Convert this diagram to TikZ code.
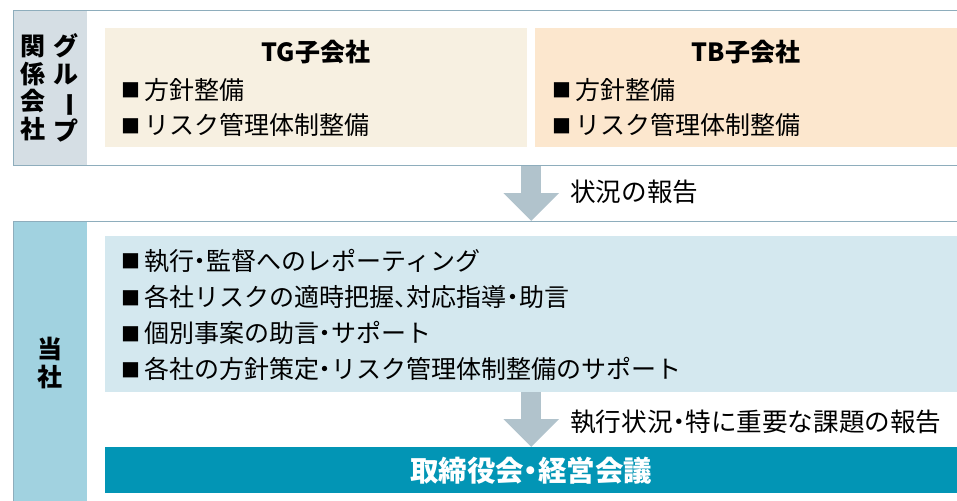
\documentclass[tikz,border=0pt]{standalone}
\usepackage{fontspec}
\setmainfont{Noto Sans CJK JP}
\usetikzlibrary{positioning, arrows.meta}

\definecolor{framecol}{HTML}{8EADBC}
\definecolor{sidegray}{HTML}{D5DEE4}
\definecolor{sideblue}{HTML}{A1D2E0}
\definecolor{tgfill}{HTML}{F7F0E1}
\definecolor{tbfill}{HTML}{FCE7CE}
\definecolor{ownfill}{HTML}{D4E8EF}
\definecolor{barteal}{HTML}{0295B5}
\definecolor{arrowgray}{HTML}{B1C3CC}

\newcommand{\blt}{\raisebox{1.5pt}{\fontsize{19}{19}\selectfont ■}\hspace{4pt}}
% narrow punctuation
\newcommand{\nk}{{\addfontfeature{RawFeature=+palt}・}}
\newcommand{\tn}{{\addfontfeature{RawFeature=+palt}、}}

\begin{document}
\begin{tikzpicture}[x=1pt, y=-1pt,
  side/.style={fill=#1, inner sep=0pt, anchor=north west, minimum width=74pt},
  frame/.style={draw=framecol, line width=1.3pt, inner sep=0pt, anchor=north west,
                minimum width=960pt},
  panel/.style={fill=#1, inner sep=0pt, anchor=north west},
  vlabel/.style={font=\bfseries\fontsize{25}{27.7}\selectfont, align=center, inner sep=0pt},
  subhead/.style={font=\bfseries\fontsize{25}{25}\selectfont, inner sep=0pt},
  item/.style={anchor=west, inner sep=0pt, font=\fontsize{25}{25}\selectfont},
  note/.style={anchor=west, inner sep=0pt, font=\fontsize{25.6}{25.6}\selectfont},
  report/.style={draw=arrowgray, line width=20pt, -{Triangle[length=28pt, width=54pt]}},
]
\useasboundingbox (0,0) rectangle (957,500);
\clip (0,0) rectangle (957,500);

% group companies
\node[side=sidegray, minimum height=155pt] (grpside) at (13,10) {};
\node[frame, minimum height=155pt] (grp) at (13,10) {};
\node[vlabel] (grplbl) at (33,88) {関\\係\\会\\社};
\node[vlabel] (grpname) at (66,88) {グ\\ル\\\rotatebox[origin=c]{-90}{ー}\\プ};
\node[panel=tgfill, minimum width=422pt, minimum height=119pt] (tg) at (105,28) {};
\node[panel=tbfill, minimum width=430pt, minimum height=119pt] (tb) at (535,28) {};
\node[subhead] (tgname) at (316,52) {TG子会社};
\node[subhead] (tbname) at (746,52) {TB子会社};
\node[item] (tg1) at (121,90) {\blt 方針整備};
\node[item] (tg2) at (121,125) {\blt リスク管理体制整備};
\node[item] (tb1) at (552,90) {\blt 方針整備};
\node[item] (tb2) at (552,125) {\blt リスク管理体制整備};

% own company
\node[side=sideblue, minimum height=300pt] (ownside) at (13,221) {};
\node[frame, minimum height=300pt] (own) at (13,221) {};
\node[vlabel] (ownlbl) at (50,363) {当\\社};
\node[panel=ownfill, minimum width=860pt, minimum height=156pt] (tasks) at (105,236) {};
\node[item] (task1) at (121,261) {\blt 執行\nk 監督へのレポーティング};
\node[item] (task2) at (121,297) {\blt 各社リスクの適時把握\tn 対応指導\nk 助言};
\node[item] (task3) at (121,333) {\blt 個別事案の助言\nk サポート};
\node[item] (task4) at (121,369) {\blt 各社の方針策定\nk リスク管理体制整備のサポート};

\node[panel=barteal, minimum width=852pt, minimum height=46pt] (board) at (105,447) {};
\node[font=\bfseries\fontsize{28.5}{28.5}\selectfont, text=white, inner sep=0pt]
  (boardname) at (board.center) {取締役会\nk 経営会議};

% reports
\draw[report] (grp.south -| board.north) -- (own.north -| board.north);
\draw[report] (tasks.south -| board.north) -- (board.north);
\node[note] (rep1) at (570,192) {状況の報告};
\node[note] (rep2) at (570,422) {執行状況\nk 特に重要な課題の報告};
\end{tikzpicture}
\end{document}
